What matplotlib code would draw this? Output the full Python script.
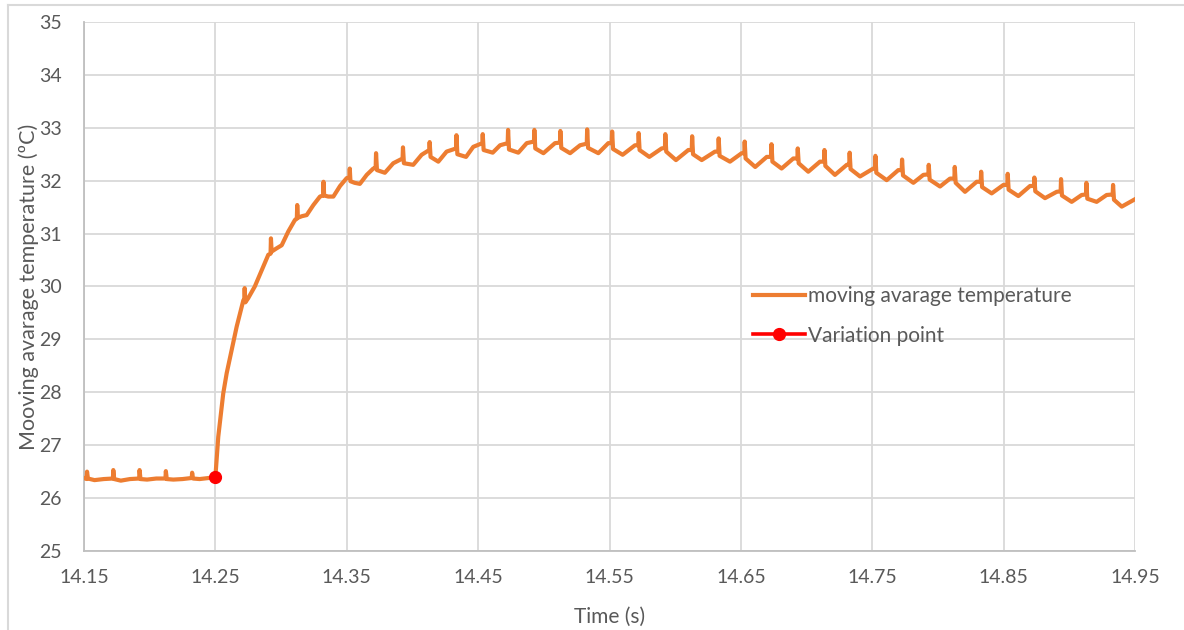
import numpy as np
import matplotlib
matplotlib.use("Agg")
import matplotlib.pyplot as plt
from matplotlib.lines import Line2D

# ---- data -----------------------------------------------------------------
# steady state before the change
base_t = [14.150, 14.152, 14.1523, 14.153, 14.158, 14.165, 14.172, 14.1723, 14.173,
          14.178, 14.185, 14.192, 14.1923, 14.193, 14.198, 14.205, 14.212, 14.2123,
          14.213, 14.218, 14.225, 14.232, 14.2323, 14.233, 14.238, 14.245, 14.250]
base_T = [26.38, 26.36, 26.50, 26.37, 26.34, 26.36, 26.37, 26.53, 26.36,
          26.33, 26.36, 26.37, 26.53, 26.36, 26.35, 26.37, 26.37, 26.51,
          26.36, 26.35, 26.36, 26.38, 26.48, 26.37, 26.36, 26.38, 26.40]

# heating transient
rise_t = [14.2522, 14.2560, 14.2586, 14.2624, 14.2662, 14.2713, 14.2720, 14.2723,
          14.2728, 14.2750, 14.2800, 14.2853, 14.2903, 14.2920, 14.2923, 14.2928,
          14.2965, 14.3005, 14.3055, 14.3106, 14.3120, 14.3123, 14.3128, 14.3160,
          14.3195, 14.3246, 14.3296, 14.3320, 14.3323, 14.3328, 14.3360, 14.3398,
          14.3449, 14.3500, 14.3520, 14.3523, 14.3528, 14.3560, 14.3600, 14.3652,
          14.3702]
rise_T = [27.16, 27.98, 28.36, 28.80, 29.24, 29.74, 29.76, 29.97,
          29.70, 29.78, 30.00, 30.31, 30.60, 30.62, 30.91, 30.66,
          30.72, 30.78, 31.04, 31.26, 31.28, 31.54, 31.30, 31.33,
          31.35, 31.54, 31.70, 31.72, 31.98, 31.72, 31.70, 31.70,
          31.90, 32.05, 32.06, 32.23, 31.99, 31.96, 31.94, 32.11,
          32.23]

# periodic peaks after the transient: time of each peak, level just before,
# peak value, level just after, and the following low / recovery points
peak_t = [14.3720, 14.3925, 14.4128, 14.4332, 14.4532, 14.4725, 14.4925, 14.5123,
          14.5327, 14.5517, 14.5719, 14.5922, 14.6126, 14.6328, 14.6526, 14.6730,
          14.6930, 14.7133, 14.7325, 14.7521, 14.7724, 14.7927, 14.8125, 14.8326,
          14.8528, 14.8731, 14.8934, 14.9127, 14.9330]
pre_T = [32.24, 32.42, 32.58, 32.61, 32.71, 32.71, 32.74, 32.72,
         32.70, 32.71, 32.67, 32.62, 32.58, 32.55, 32.52, 32.45,
         32.42, 32.36, 32.30, 32.23, 32.20, 32.12, 32.04, 31.98,
         31.92, 31.90, 31.80, 31.74, 31.74]
top_T = [32.52, 32.63, 32.73, 32.86, 32.88, 32.96, 32.96, 32.94,
         32.97, 32.93, 32.90, 32.88, 32.84, 32.80, 32.74, 32.69,
         32.61, 32.58, 32.53, 32.47, 32.40, 32.30, 32.26, 32.17,
         32.13, 32.06, 32.03, 31.96, 31.92]
post_T = [32.20, 32.33, 32.45, 32.50, 32.58, 32.59, 32.61, 32.62,
          32.62, 32.60, 32.58, 32.55, 32.50, 32.47, 32.42, 32.36,
          32.33, 32.28, 32.22, 32.15, 32.10, 32.02, 31.96, 31.88,
          31.83, 31.80, 31.72, 31.66, 31.64]
low_t = [14.3790, 14.4006, 14.4197, 14.4408, 14.4611, 14.4806, 14.4997, 14.5200,
         14.5415, 14.5600, 14.5803, 14.6006, 14.6202, 14.6417, 14.6609, 14.6810,
         14.7013, 14.7216, 14.7407, 14.7610, 14.7813, 14.8016, 14.8206, 14.8409,
         14.8612, 14.8815, 14.9018, 14.9208, 14.9399]
low_T = [32.15, 32.30, 32.36, 32.45, 32.53, 32.53, 32.52, 32.52,
         32.52, 32.49, 32.45, 32.39, 32.39, 32.36, 32.26, 32.23,
         32.17, 32.11, 32.08, 32.01, 31.96, 31.89, 31.79, 31.76,
         31.71, 31.67, 31.60, 31.60, 31.51]
mid_t = [14.3854, 14.4070, 14.4260, 14.4463, 14.4667, 14.4870, 14.5085, 14.5276,
         14.5491, 14.5694, 14.5897, 14.6100, 14.6303, 14.6506, 14.6697, 14.6899,
         14.7102, 14.7306, 14.7508, 14.7698, 14.7889, 14.8092, 14.8295, 14.8498,
         14.8701, 14.8904, 14.9094, 14.9284, 14.9500]
mid_T = [32.33, 32.49, 32.55, 32.64, 32.67, 32.71, 32.71, 32.67,
         32.71, 32.67, 32.61, 32.58, 32.55, 32.52, 32.45, 32.42,
         32.36, 32.30, 32.23, 32.20, 32.11, 32.04, 31.98, 31.92,
         31.90, 31.79, 31.73, 31.73, 31.65]

variation_t = [14.25]
variation_T = [26.40]

x_ticks = [14.15, 14.25, 14.35, 14.45, 14.55, 14.65, 14.75, 14.85, 14.95]
y_ticks = [25, 26, 27, 28, 29, 30, 31, 32, 33, 34, 35]

# ---- assemble the trace ------------------------------------------------------
tail_t, tail_T = [], []
for k in range(len(peak_t)):
    tail_t += [peak_t[k], peak_t[k] + 0.0003, peak_t[k] + 0.0010, low_t[k], mid_t[k]]
    tail_T += [pre_T[k], top_T[k], post_T[k], low_T[k], mid_T[k]]

t = np.array(base_t + rise_t + tail_t)
T = np.array(base_T + rise_T + tail_T)

# ---- styling -----------------------------------------------------------------
plt.rcParams['font.family'] = ['Lato', 'DejaVu Sans']
TXT = '#595959'
GRID = '#D9D9D9'
ORANGE = '#ED7D31'

fig = plt.figure(figsize=(11.84, 6.30), dpi=100)
ax = fig.add_axes([84 / 1184, 79 / 630, 1051 / 1184, 529 / 630])

ax.plot(t, T, color=ORANGE, lw=3.0, solid_joinstyle='round', zorder=3,
        label='moving avarage temperature')
ax.plot(variation_t, variation_T, color='#FF0000', lw=2.6, marker='o', ms=8.5,
        zorder=4, label='Variation point')

ax.set_xlim(x_ticks[0], x_ticks[-1])
ax.set_ylim(y_ticks[0], y_ticks[-1])
ax.set_xticks(x_ticks)
ax.set_xticklabels([f'{v:.2f}' for v in x_ticks])
ax.set_yticks(y_ticks)
ax.grid(True, color=GRID, lw=1.3)
ax.set_axisbelow(True)
for side in ('top', 'right'):
    ax.spines[side].set_visible(False)
for side in ('left', 'bottom'):
    ax.spines[side].set_color('#BFBFBF')
    ax.spines[side].set_linewidth(1.3)
ax.tick_params(length=0, labelsize=14, colors=TXT)
ax.tick_params(axis='x', pad=13)
ax.tick_params(axis='y', pad=16)

ax.set_xlabel('Time (s)', fontsize=15, color=TXT, labelpad=15)
ax.set_ylabel('Mooving avarage temperature (ºC)', fontsize=15.5, color=TXT, labelpad=0)

leg = ax.legend(loc='upper left', bbox_to_anchor=(753 / 1184, 1 - 286 / 630),
                bbox_transform=fig.transFigure, frameon=False, fontsize=15,
                handlelength=2.5, handletextpad=0.15, labelspacing=0.95,
                borderpad=0, borderaxespad=0)
for txt in leg.get_texts():
    txt.set_color(TXT)

# chart-area frame
fig.add_artist(Line2D([8 / 1184, 1.0], [1 - 5 / 630, 1 - 5 / 630],
                      transform=fig.transFigure, color=GRID, lw=1.5))
fig.add_artist(Line2D([8 / 1184, 8 / 1184], [0.0, 1 - 5 / 630],
                      transform=fig.transFigure, color=GRID, lw=1.5))

fig.savefig('out.png', dpi=100, facecolor='white')
